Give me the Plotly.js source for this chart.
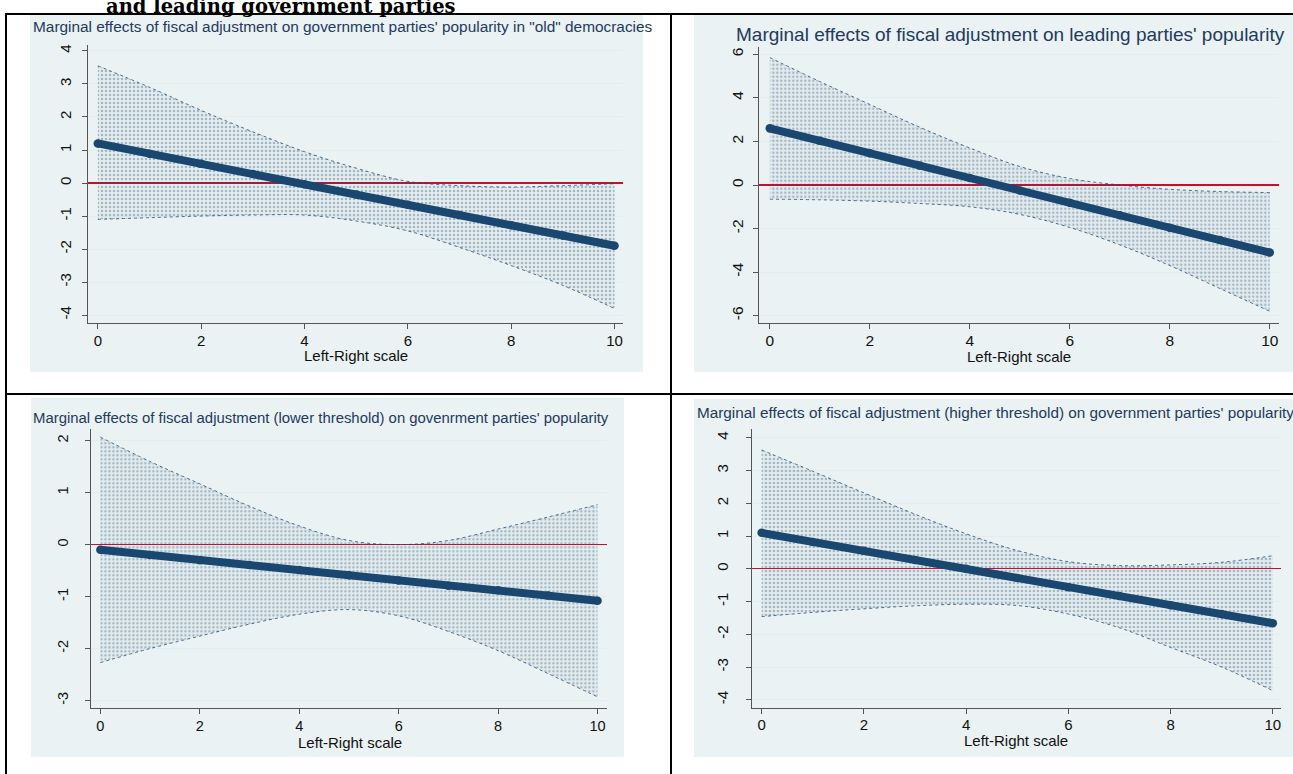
<!DOCTYPE html>
<html>
<head>
<meta charset="utf-8">
<script src="https://cdn.plot.ly/plotly-3.0.1.min.js"></script>
<style>
  html, body { margin: 0; padding: 0; background: #ffffff; }
  #chart { width: 1293px; height: 774px; }
</style>
</head>
<body>
<div id="chart"></div>
<script>
// ---------------- data ----------------
const lrScale = [0, 1, 2, 3, 4, 5, 6, 7, 8, 9, 10];

// Panel 1: government parties in "old" democracies
const oldDemMid = [1.2, 0.89, 0.58, 0.27, -0.04, -0.35, -0.66, -0.97, -1.28, -1.59, -1.9];
const oldDemHi  = [3.55, 2.9, 2.2, 1.55, 0.95, 0.45, 0.05, -0.08, -0.12, -0.08, -0.02];
const oldDemLo  = [-1.1, -1.05, -1.0, -0.97, -0.97, -1.15, -1.45, -1.95, -2.5, -3.1, -3.8];

// Panel 2: leading parties
const leadMid = [2.6, 2.03, 1.46, 0.89, 0.32, -0.25, -0.82, -1.39, -1.96, -2.53, -3.1];
const leadHi  = [5.85, 4.75, 3.7, 2.65, 1.7, 0.85, 0.3, 0.0, -0.2, -0.3, -0.35];
const leadLo  = [-0.65, -0.68, -0.74, -0.85, -1.0, -1.35, -1.95, -2.75, -3.7, -4.75, -5.8];

// Panel 3: lower threshold
const lowMid = [-0.1, -0.2, -0.3, -0.39, -0.49, -0.59, -0.69, -0.79, -0.88, -0.98, -1.08];
const lowHi  = [2.07, 1.6, 1.17, 0.74, 0.36, 0.08, 0.0, 0.08, 0.3, 0.53, 0.77];
const lowLo  = [-2.27, -2.0, -1.76, -1.53, -1.34, -1.25, -1.37, -1.67, -2.04, -2.48, -2.93];

// Panel 4: higher threshold
const highMid = [1.1, 0.82, 0.55, 0.27, 0.0, -0.28, -0.56, -0.83, -1.11, -1.38, -1.66];
const highHi  = [3.63, 2.98, 2.32, 1.67, 1.07, 0.56, 0.22, 0.1, 0.12, 0.2, 0.4];
const highLo  = [-1.46, -1.33, -1.22, -1.13, -1.08, -1.12, -1.38, -1.8, -2.4, -3.0, -3.72];

// tick labels
const xTicks  = [0, 2, 4, 6, 8, 10];
const yTicks1 = [-4, -3, -2, -1, 0, 1, 2, 3, 4];
const yTicks2 = [-6, -4, -2, 0, 2, 4, 6];
const yTicks3 = [-3, -2, -1, 0, 1, 2];
const yTicks4 = [-4, -3, -2, -1, 0, 1, 2, 3, 4];

const titles = [
  'Marginal effects of fiscal adjustment on government parties\' popularity in "old" democracies',
  'Marginal effects of fiscal adjustment on leading parties\' popularity',
  'Marginal effects of fiscal adjustment (lower threshold) on govenrment parties\' popularity',
  'Marginal effects of fiscal adjustment (higher threshold) on government parties\' popularity'
];
const xTitle = 'Left-Right scale';
const headText = 'and leading government parties';

// ---------------- styling ----------------
const W = 1293, H = 774;
const px = v => v / W;
const py = v => 1 - v / H;
const NAVY = '#1A476F';
const BG = '#EAF2F3';
const FONT = 'Liberation Sans, Arial, sans-serif';

function ciTraces(lo, hi, mid, xa, ya) {
  const edge = { color: 'rgba(26,71,111,0.75)', width: 1, dash: 'dot', shape: 'spline' };
  return [
    { x: lrScale, y: lo, xaxis: xa, yaxis: ya, mode: 'lines', line: edge, hoverinfo: 'skip', showlegend: false },
    { x: lrScale, y: hi, xaxis: xa, yaxis: ya, mode: 'lines', line: edge, fill: 'tonexty',
      fillcolor: 'rgba(26,71,111,0.03)',
      fillpattern: { shape: '.', size: 4, solidity: 0.3, fgcolor: 'rgba(26,71,111,0.33)', bgcolor: 'rgba(26,71,111,0.03)' },
      hoverinfo: 'skip', showlegend: false },
    { x: lrScale, y: mid, xaxis: xa, yaxis: ya, mode: 'lines+markers',
      line: { color: NAVY, width: 8 }, marker: { color: NAVY, size: 8.5 }, showlegend: false }
  ];
}

const data = [].concat(
  ciTraces(oldDemLo, oldDemHi, oldDemMid, 'x', 'y'),
  ciTraces(leadLo, leadHi, leadMid, 'x2', 'y2'),
  ciTraces(lowLo, lowHi, lowMid, 'x3', 'y3'),
  ciTraces(highLo, highHi, highMid, 'x4', 'y4')
);

function xAxis(l, r, range, anchor, fs, standoff) {
  return {
    domain: [px(l), px(r)], range: range, anchor: anchor,
    tickmode: 'array', tickvals: xTicks, ticktext: xTicks.map(String),
    ticks: 'outside', ticklen: 5, tickcolor: '#555', ticklabelstandoff: standoff,
    showline: true, linecolor: '#555', linewidth: 1, mirror: false,
    showgrid: false, zeroline: false,
    tickfont: { family: FONT, size: fs, color: '#111' }
  };
}
function yAxis(t, b, range, anchor, ticks, fs, standoff) {
  return {
    domain: [py(b), py(t)], range: range, anchor: anchor,
    tickmode: 'array', tickvals: ticks, ticktext: ticks.map(String),
    ticks: 'outside', ticklen: 5, tickcolor: '#555',
    tickangle: -90, ticklabelstandoff: standoff,
    showline: true, linecolor: '#555', linewidth: 1, mirror: false,
    showgrid: true, gridcolor: '#E3ECEE', gridwidth: 1,
    zeroline: true, zerolinecolor: '#C8102E', zerolinewidth: 1.3,
    tickfont: { family: FONT, size: fs, color: '#111' }
  };
}

const panelBg = [
  [30, 15, 643, 372],
  [694, 15, 1293, 372],
  [31, 398, 624, 757],
  [694, 399, 1293, 757]
];
const shapes = panelBg.map(b => ({
  type: 'rect', xref: 'paper', yref: 'paper', layer: 'below',
  x0: px(b[0]), x1: px(b[2]), y0: py(b[3]), y1: py(b[1]),
  fillcolor: BG, line: { width: 0 }
}));
// table borders
const lines = [
  [5, 14, 1293, 14], [6, 13, 6, 774], [671, 13, 671, 774], [5, 394, 1293, 394]
];
lines.forEach(l => shapes.push({
  type: 'line', xref: 'paper', yref: 'paper', layer: 'above',
  x0: px(l[0]), y0: py(l[1]), x1: px(l[2]), y1: py(l[3]),
  line: { color: '#000', width: 2 }
}));

const TCOL = '#233A5E';
const annotations = [
  { text: headText, x: px(104), y: py(20), xanchor: 'left', yanchor: 'bottom',
    font: { family: 'DejaVu Serif, serif', size: 19.5, color: '#000', weight: 'bold' } },
  { text: titles[0], x: px(31), y: py(27), xanchor: 'left', yanchor: 'middle', font: { family: FONT, size: 15.4, color: TCOL } },
  { text: titles[1], x: px(734), y: py(34), xanchor: 'left', yanchor: 'middle', font: { family: FONT, size: 19, color: TCOL } },
  { text: titles[2], x: px(31), y: py(418), xanchor: 'left', yanchor: 'middle', font: { family: FONT, size: 14.9, color: TCOL } },
  { text: titles[3], x: px(695), y: py(412), xanchor: 'left', yanchor: 'middle', font: { family: FONT, size: 15.3, color: TCOL } },
  { text: xTitle, x: px(356), y: py(355), xanchor: 'center', yanchor: 'middle', font: { family: FONT, size: 15, color: '#111' } },
  { text: xTitle, x: px(1019), y: py(357), xanchor: 'center', yanchor: 'middle', font: { family: FONT, size: 15, color: '#111' } },
  { text: xTitle, x: px(350), y: py(742), xanchor: 'center', yanchor: 'middle', font: { family: FONT, size: 15, color: '#111' } },
  { text: xTitle, x: px(1016), y: py(740), xanchor: 'center', yanchor: 'middle', font: { family: FONT, size: 15, color: '#111' } }
].map(a => Object.assign({ xref: 'paper', yref: 'paper', showarrow: false }, a));

const layout = {
  width: W, height: H,
  margin: { l: 0, r: 0, t: 0, b: 0, pad: 0 },
  paper_bgcolor: '#ffffff', plot_bgcolor: '#ffffff',
  showlegend: false,
  xaxis:  xAxis(88, 623.3, [-0.19, 10.17], 'y', 15, -1),
  yaxis:  yAxis(45, 322.7, [-4.23, 4.18], 'x', yTicks1, 15, 5),
  xaxis2: xAxis(759.3, 1279.3, [-0.21, 10.19], 'y2', 15.5, -2),
  yaxis2: yAxis(46.7, 323.3, [-6.35, 6.35], 'x2', yTicks2, 15.5, 4),
  xaxis3: xAxis(91.4, 607, [-0.18, 10.19], 'y3', 14.5, -1),
  yaxis3: yAxis(429.3, 708.3, [-3.15, 2.22], 'x3', yTicks3, 14.5, 12),
  xaxis4: xAxis(751.9, 1281, [-0.19, 10.16], 'y4', 15, -2),
  yaxis4: yAxis(429, 707.7, [-4.24, 4.27], 'x4', yTicks4, 15, 12),
  shapes: shapes,
  annotations: annotations
};

Plotly.newPlot('chart', data, layout, { staticPlot: true, displayModeBar: false });
</script>
</body>
</html>
